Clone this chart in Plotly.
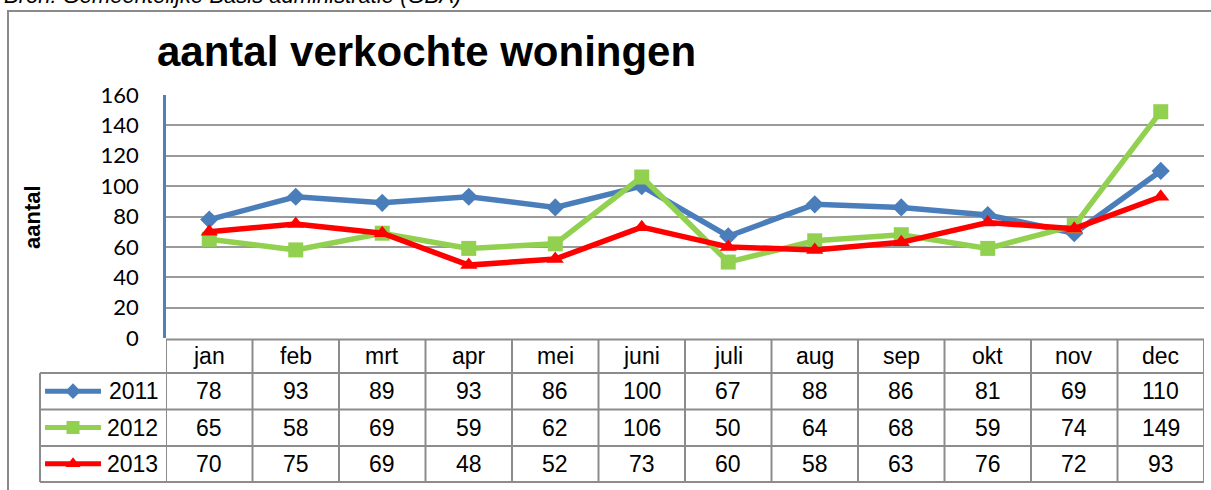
"""Aantal verkochte woningen per maand, 2011-2013, met datatabel onder de grafiek."""

import plotly.graph_objects as go

W, H = 1211, 490

MONTHS = ["jan", "feb", "mrt", "apr", "mei", "juni", "juli", "aug", "sep", "okt", "nov", "dec"]
YEARS = ["2011", "2012", "2013"]
V2011 = [78, 93, 89, 93, 86, 100, 67, 88, 86, 81, 69, 110]
V2012 = [65, 58, 69, 59, 62, 106, 50, 64, 68, 59, 74, 149]
V2013 = [70, 75, 69, 48, 52, 73, 60, 58, 63, 76, 72, 93]
Y_TICKS = [0, 20, 40, 60, 80, 100, 120, 140, 160]

SERIES = [
    ("2011", V2011, "#4A7EBB", "diamond", 14),
    ("2012", V2012, "#92D050", "square", 15),
    ("2013", V2013, "#FF0000", "triangle-up", 15),
]

GRID = "#9a9a9a"
TABLE = "#8c8c8c"


def px(x):
    return x / W


def py(y):
    return 1 - y / H


fig = go.Figure()
for name, vals, color, symbol, size in SERIES:
    fig.add_trace(go.Scatter(
        x=list(range(len(MONTHS))), y=vals, mode="lines+markers", name=name,
        line=dict(color=color, width=5.5),
        marker=dict(color=color, symbol=symbol, size=size, line=dict(width=0)),
        showlegend=False, cliponaxis=False,
    ))

# legendasleutels in de eerste kolom van de datatabel
for i, (name, vals, color, symbol, size) in enumerate(SERIES):
    fig.add_trace(go.Scatter(
        x=[0.04, 0.262, 0.484], y=[i, i, i], mode="lines",
        line=dict(color=color, width=5), xaxis="x2", yaxis="y2", showlegend=False,
    ))
    fig.add_trace(go.Scatter(
        x=[0.262], y=[i], mode="markers", xaxis="x2", yaxis="y2", showlegend=False,
        marker=dict(color=color, symbol=symbol, size=size - 2, line=dict(width=0)),
    ))

fig.update_layout(
    width=W, height=H, margin=dict(l=0, r=0, t=0, b=0, autoexpand=False),
    paper_bgcolor="white", plot_bgcolor="white",
    font=dict(family="Arial, Liberation Sans", color="black"),
    xaxis=dict(domain=[px(166), px(1204)], range=[-0.5, 11.5], showgrid=False,
               showticklabels=False, zeroline=False, fixedrange=True, automargin=False),
    yaxis=dict(domain=[py(338), py(95)], range=[0, 160], tickvals=Y_TICKS,
               showgrid=True, gridcolor=GRID, gridwidth=2, zeroline=False,
               showline=True, linecolor="#4F81BD", linewidth=2.5, automargin=False,
               tickfont=dict(family="Lato", size=22, color="black"), ticklabelstandoff=20),
    xaxis2=dict(domain=[px(40), px(166)], range=[0, 1], visible=False, anchor="y2",
                automargin=False),
    yaxis2=dict(domain=[py(482), py(373)], range=[2.5, -0.5], visible=False, anchor="x2",
                automargin=False),
)

# kader om de grafiek
fig.add_shape(type="rect", xref="paper", yref="paper", x0=px(8), x1=px(1220),
              y0=py(500), y1=py(11), line=dict(color="#8a8a8a", width=2))

# raster van de datatabel
rows = [339.5, 373, 409.5, 446, 482]
fig.add_shape(type="line", xref="x", yref="paper", x0=-0.5, x1=11.5,
              y0=py(rows[0]), y1=py(rows[0]), line=dict(color=TABLE, width=2))
for yy in rows[1:]:
    fig.add_shape(type="line", xref="paper", yref="paper", x0=px(40), x1=px(1204),
                  y0=py(yy), y1=py(yy), line=dict(color=TABLE, width=2))
for c in range(len(MONTHS) + 1):
    fig.add_shape(type="line", xref="x", yref="paper", x0=c - 0.5, x1=c - 0.5,
                  y0=py(rows[0]), y1=py(rows[-1]), line=dict(color=TABLE, width=2))
fig.add_shape(type="line", xref="paper", yref="paper", x0=px(40), x1=px(40),
              y0=py(rows[1]), y1=py(rows[-1]), line=dict(color=TABLE, width=2))

row_centers = [(rows[i] + rows[i + 1]) / 2 for i in range(4)]
for c, m in enumerate(MONTHS):
    fig.add_annotation(x=c, y=py(row_centers[0]), xref="x", yref="paper", text=m,
                       showarrow=False, font=dict(size=23), yanchor="middle")
    for r, (name, vals, *_rest) in enumerate(SERIES):
        fig.add_annotation(x=c, y=py(row_centers[r + 1]), xref="x", yref="paper",
                           text=str(vals[c]), showarrow=False, font=dict(size=23),
                           yanchor="middle")
for r, name in enumerate(YEARS):
    fig.add_annotation(x=px(160), y=py(row_centers[r + 1]), xref="paper", yref="paper",
                       text=name, showarrow=False, font=dict(size=23),
                       xanchor="right", yanchor="middle")

# titels
fig.add_annotation(x=px(155), y=py(52), xref="paper", yref="paper",
                   text="<b>aantal verkochte woningen</b>", showarrow=False,
                   font=dict(size=42), xanchor="left", yanchor="middle")
fig.add_annotation(x=px(32), y=py(217), xref="paper", yref="paper", text="<b>aantal</b>",
                   showarrow=False, font=dict(size=22), textangle=-90,
                   xanchor="center", yanchor="middle")
fig.add_annotation(x=px(2), y=py(10), xref="paper", yref="paper",
                   text="<i>Bron: Gemeentelijke Basis administratie (GBA)</i>",
                   showarrow=False, font=dict(size=22), xanchor="left", yanchor="bottom")

fig.write_html("out.html", config={"displayModeBar": False},
               post_script="document.body.style.margin = '0';")
